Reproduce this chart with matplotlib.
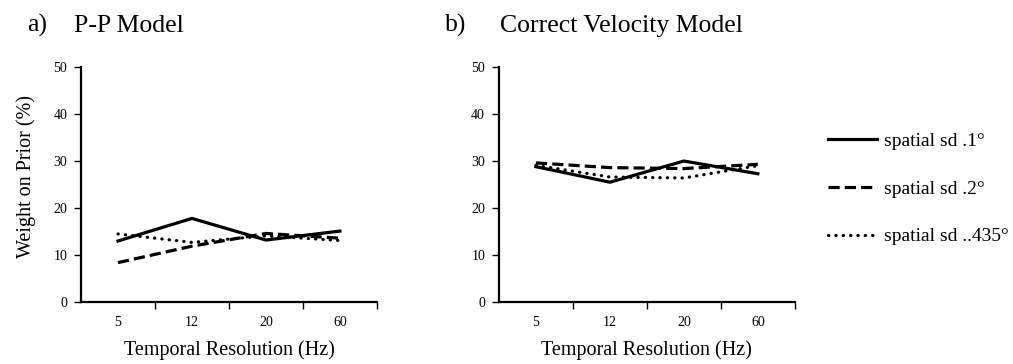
import numpy as np
import matplotlib
matplotlib.use("Agg")
import matplotlib.pyplot as plt

plt.rcParams['font.family'] = ['Liberation Serif', 'DejaVu Serif']

# data
hz_labels = ['5', '12', '20', '60']
series_names = ['spatial sd .1°', 'spatial sd .2°', 'spatial sd ..435°']

pp_sd1 = [13.0, 17.8, 13.2, 15.1]
pp_sd2 = [8.4, 11.9, 14.6, 13.6]
pp_sd435 = [14.5, 12.7, 14.1, 13.1]

cv_sd1 = [28.8, 25.5, 30.0, 27.3]
cv_sd2 = [29.6, 28.6, 28.4, 29.3]
cv_sd435 = [29.1, 26.6, 26.4, 29.0]

titles = ['P-P Model', 'Correct Velocity Model']
letters = ['a)', 'b)']

styles = [dict(ls='-', lw=2.3),
          dict(ls=(0, (3.5, 1.6)), lw=2.3),
          dict(ls=(0, (0.1, 2.2)), lw=2.3, dash_capstyle='round')]

fig = plt.figure(figsize=(10.13, 3.64), dpi=100)
ax_a = fig.add_axes([0.080, 0.170, 0.292, 0.646])
ax_b = fig.add_axes([0.4926, 0.170, 0.292, 0.646])

x = np.arange(len(hz_labels))
panels = [(ax_a, [pp_sd1, pp_sd2, pp_sd435]), (ax_b, [cv_sd1, cv_sd2, cv_sd435])]

for k, (ax, data) in enumerate(panels):
    for vals, name, st in zip(data, series_names, styles):
        ax.plot(x, vals, color='black', label=name, **st)
    ax.set_xlim(-0.5, 3.5)
    ax.set_ylim(0, 50)
    ax.set_yticks([0, 10, 20, 30, 40, 50])
    ax.set_xticks(x)
    ax.set_xticklabels(hz_labels)
    ax.set_xticks(x + 0.5, minor=True)
    ax.tick_params(axis='x', which='major', length=0, pad=10, labelsize=10)
    ax.tick_params(axis='x', which='minor', length=5, width=1, direction='out')
    ax.tick_params(axis='y', length=5, width=1, direction='out', labelsize=10, pad=5)
    for s in ['top', 'right']:
        ax.spines[s].set_visible(False)
    for s in ['left', 'bottom']:
        ax.spines[s].set_linewidth(1.6)
    ax.set_xlabel('Temporal Resolution (Hz)', fontsize=14.5, labelpad=8)

ax_a.set_ylabel('Weight on Prior (%)', fontsize=14.5)
ax_a.yaxis.set_label_coords(-0.152, 0.536)

ty = 1 - 32 / 364
fig.text(0.027, ty, letters[0], fontsize=18.5, va='baseline')
fig.text(0.073, ty, titles[0], fontsize=18.5, va='baseline')
fig.text(0.439, ty, letters[1], fontsize=18.5, va='baseline')
fig.text(0.494, ty, titles[1], fontsize=18.5, va='baseline')

handles, labels = ax_b.get_legend_handles_labels()
fig.legend(handles, labels, loc='upper left', bbox_to_anchor=(0.810, 0.658),
           frameon=False, fontsize=14, handlelength=2.5, handletextpad=0.35,
           labelspacing=1.55, borderaxespad=0)

fig.savefig('out.png', dpi=100)
